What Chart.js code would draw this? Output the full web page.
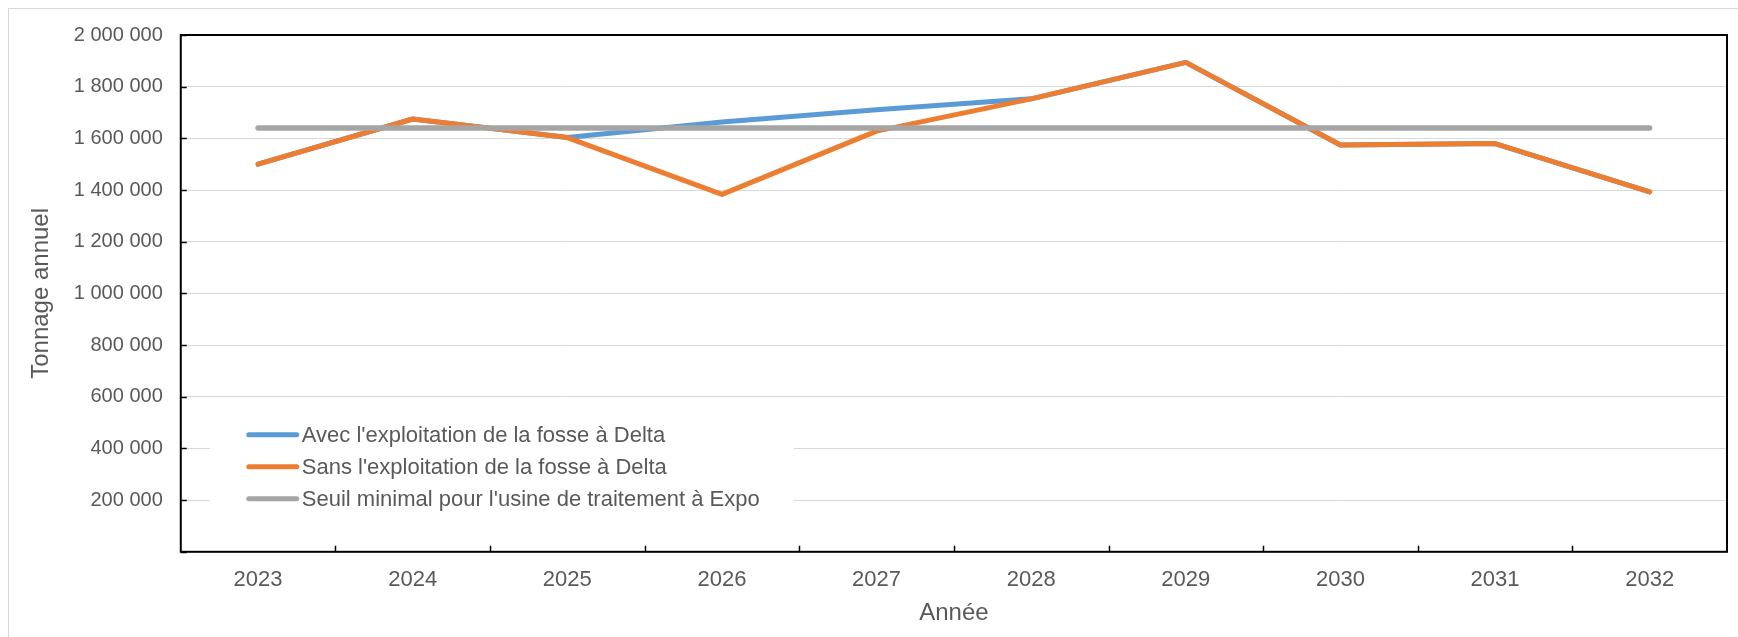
<!DOCTYPE html>
<html lang="fr">

<head>
    <meta charset="UTF-8">
    <title>Tonnage annuel</title>
    <script src="https://cdn.jsdelivr.net/npm/chart.js"></script>
    <style>
        body { margin: 0; background: #fff; }
        .frame { position: relative; width: 1738px; height: 637px; overflow: hidden; }
        .outline { position: absolute; left: 8px; top: 8px; width: 1800px; height: 700px; border: 1px solid #d9d9d9; }
        .chart-box { position: absolute; left: 0; top: 0; width: 1738px; height: 637px; }
    </style>
</head>

<body>
    <div class="frame">
        <div class="outline"></div>
        <div class="chart-box">
            <canvas id="tonnageChart"></canvas>
        </div>
    </div>

    <script>
        const years = ['2023', '2024', '2025', '2026', '2027', '2028', '2029', '2030', '2031', '2032'];
        const avecDelta = [1500000, 1675000, 1603000, 1663000, 1711000, 1753000, 1894000, 1574000, 1580000, 1393000];
        const sansDelta = [1500000, 1675000, 1603000, 1383000, 1628000, 1753000, 1894000, 1574000, 1580000, 1393000];
        const seuilExpo = [1640000, 1640000, 1640000, 1640000, 1640000, 1640000, 1640000, 1640000, 1640000, 1640000];
        const yTicks = [0, 200000, 400000, 600000, 800000, 1000000, 1200000, 1400000, 1600000, 1800000, 2000000];

        const textColor = '#595959';
        const font = 'Liberation Sans, Arial, sans-serif';

        function formatSpaces(v) {
            return String(v).replace(/\B(?=(\d{3})+(?!\d))/g, ' ');
        }

        // white legend box inside the plot, bottom-left
        const insideLegend = {
            id: 'insideLegend',
            beforeDatasetsDraw(chart) {
                const { ctx, chartArea } = chart;
                const x0 = chartArea.left;
                ctx.save();
                ctx.fillStyle = '#fff';
                ctx.fillRect(x0 + 29, chartArea.bottom - 145, 584, 125);
                ctx.font = '22px ' + font;
                ctx.textBaseline = 'middle';
                ctx.lineCap = 'round';
                chart.data.datasets.forEach((ds, i) => {
                    const y = chartArea.bottom - 117 + i * 32;
                    ctx.strokeStyle = ds.borderColor;
                    ctx.lineWidth = 5;
                    ctx.beginPath();
                    ctx.moveTo(x0 + 68, y);
                    ctx.lineTo(x0 + 116, y);
                    ctx.stroke();
                    ctx.fillStyle = textColor;
                    ctx.fillText(ds.label, x0 + 121, y + 1);
                });
                ctx.restore();
            }
        };

        // black frame and inside tick marks
        const plotFrame = {
            id: 'plotFrame',
            afterDatasetsDraw(chart) {
                const { ctx, chartArea, scales } = chart;
                ctx.save();
                ctx.strokeStyle = '#000';
                ctx.lineWidth = 2;
                ctx.strokeRect(chartArea.left, chartArea.top, chartArea.right - chartArea.left, chartArea.bottom - chartArea.top);
                ctx.lineWidth = 1.5;
                ctx.beginPath();
                yTicks.forEach(v => {
                    const y = Math.round(scales.y.getPixelForValue(v)) + 0.5;
                    ctx.moveTo(chartArea.left, y);
                    ctx.lineTo(chartArea.left + 6, y);
                });
                const step = scales.x.getPixelForValue(1) - scales.x.getPixelForValue(0);
                for (let i = 1; i < years.length; i++) {
                    const x = Math.round(scales.x.getPixelForValue(i) - step / 2) + 0.5;
                    ctx.moveTo(x, chartArea.bottom);
                    ctx.lineTo(x, chartArea.bottom - 6);
                }
                ctx.stroke();
                ctx.restore();
            }
        };

        const ctx = document.getElementById('tonnageChart').getContext('2d');
        new Chart(ctx, {
            type: 'line',
            data: {
                labels: years,
                datasets: [{
                    label: "Avec l'exploitation de la fosse à Delta",
                    data: avecDelta,
                    borderColor: '#5B9BD5',
                    borderWidth: 5,
                    order: 3
                }, {
                    label: "Sans l'exploitation de la fosse à Delta",
                    data: sansDelta,
                    borderColor: '#ED7D31',
                    borderWidth: 5,
                    order: 2
                }, {
                    label: "Seuil minimal pour l'usine de traitement à Expo",
                    data: seuilExpo,
                    borderColor: '#A5A5A5',
                    borderWidth: 5.5,
                    order: 1
                }]
            },
            options: {
                responsive: true,
                maintainAspectRatio: false,
                animation: false,
                layout: { padding: { top: 35, right: 11, bottom: 0, left: 20 } },
                elements: {
                    point: { radius: 0, hoverRadius: 0 },
                    line: { tension: 0, borderCapStyle: 'round', borderJoinStyle: 'round', fill: false }
                },
                plugins: {
                    legend: { display: false },
                    tooltip: { enabled: false }
                },
                scales: {
                    x: {
                        offset: true,
                        grid: { display: false, drawTicks: false },
                        border: { display: false },
                        ticks: { color: textColor, font: { family: font, size: 22 }, padding: 15, maxRotation: 0 },
                        title: { display: true, text: 'Année', color: textColor, font: { family: font, size: 24 }, padding: { top: -9, bottom: 9 } }
                    },
                    y: {
                        min: 0,
                        max: 2000000,
                        afterBuildTicks(scale) { scale.ticks = yTicks.map(v => ({ value: v })); },
                        grid: { color: '#d9d9d9', lineWidth: 1, drawTicks: false },
                        border: { display: false },
                        ticks: {
                            color: textColor,
                            font: { family: font, size: 20 },
                            padding: 18,
                            callback: v => (v === 0 ? '' : formatSpaces(v))
                        },
                        title: { display: true, text: 'Tonnage annuel', color: textColor, font: { family: font, size: 24 }, padding: { top: 7, bottom: 0 } }
                    }
                }
            },
            plugins: [insideLegend, plotFrame]
        });
    </script>
</body>

</html>
